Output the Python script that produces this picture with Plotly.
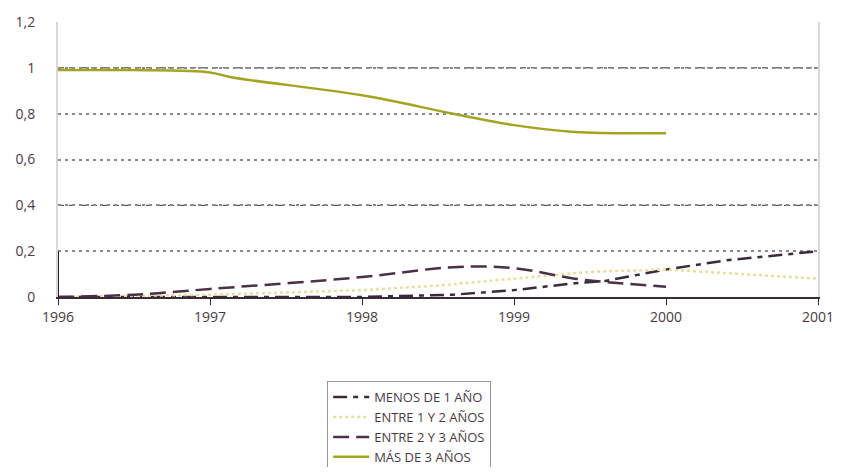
import plotly.graph_objects as go

# Años en el eje x y valores
x_menos = [1996, 1997, 1998, 1998.6, 1999, 1999.4, 1999.6, 2000, 2000.4, 2001]
menos = [0, 0, 0, 0.01, 0.03, 0.06, 0.07, 0.12, 0.16, 0.2]

x_entre12 = [1996, 1997, 1998, 1998.5, 1999, 1999.5, 2000, 2000.5, 2001]
entre12 = [0, 0.01, 0.03, 0.05, 0.08, 0.11, 0.12, 0.1, 0.08]

x_entre23 = [1996, 1996.5, 1997, 1998, 1998.6, 1999, 1999.4, 1999.7, 2000]
entre23 = [0, 0.01, 0.035, 0.087, 0.13, 0.126, 0.08, 0.06, 0.045]

x_mas = [1996, 1996.5, 1997, 1997.13, 1998, 1998.6, 1999, 1999.4, 2000]
mas = [0.99, 0.99, 0.98, 0.96, 0.88, 0.8, 0.75, 0.72, 0.715]

y_ticks = [0, 0.2, 0.4, 0.6, 0.8, 1, 1.2]
y_labels = ["0", "0,2", "0,4", "0,6", "0,8", "1", "1,2"]
x_ticks = [1996, 1997, 1998, 1999, 2000, 2001]
dark_grid = [0.4, 1]   # líneas de guía más oscuras

FONT = "Open Sans, Lato, sans-serif"
TXT = "#4a3a48"

fig = go.Figure()

fig.add_trace(go.Scatter(
    x=x_menos, y=menos, mode="lines", name="MENOS DE 1 AÑO",
    line=dict(color="#3a2a3a", width=2.5, dash="14px,6px,5px,6px"),
))
fig.add_trace(go.Scatter(
    x=x_entre12, y=entre12, mode="lines", name="ENTRE 1 Y 2 AÑOS",
    line=dict(color="#e6df9e", width=2.5, dash="dot"),
))
fig.add_trace(go.Scatter(
    x=x_entre23, y=entre23, mode="lines", name="ENTRE 2 Y 3 AÑOS",
    line=dict(color="#4a3048", width=2.5, dash="16px,7px", shape="spline"),
))
fig.add_trace(go.Scatter(
    x=x_mas, y=mas, mode="lines", name="MÁS DE 3 AÑOS",
    line=dict(color="#a4a422", width=2.5, shape="spline"),
))

for yv in dark_grid:
    fig.add_hline(y=yv, line_dash="6px,5px", line_color="#333333", line_width=1, layer="below")

# trazo vertical corto en el eje izquierdo (0 a 0,2)
fig.add_shape(type="line", xref="x", yref="y", x0=x_ticks[0], x1=x_ticks[0],
              y0=y_ticks[0], y1=y_ticks[1], line=dict(color="#222222", width=2))

fig.update_layout(
    width=829, height=459,
    plot_bgcolor="white", paper_bgcolor="white",
    font=dict(family=FONT, color=TXT, size=14),
    margin=dict(l=50, r=19, t=14, b=170, autoexpand=False),
    showlegend=True,
    legend=dict(
        xref="container", yref="container",
        x=0.385, y=0.187, xanchor="left", yanchor="top",
        bordercolor="#9a9a9a", borderwidth=1,
        font=dict(family=FONT, size=13, color=TXT),
        tracegroupgap=0, itemwidth=36, entrywidth=182,
    ),
)
fig.update_xaxes(
    range=[1996, 2001], tickvals=x_ticks, ticktext=[str(v) for v in x_ticks],
    showgrid=False, zeroline=False, automargin=False,
    showline=True, linecolor="#3a2a3a", linewidth=2, mirror=False,
    ticks="outside", ticklen=6, tickcolor="#3a2a3a",
    tickfont=dict(size=14, color=TXT),
)
fig.update_yaxes(
    range=[0, 1.2], tickvals=y_ticks, ticktext=y_labels,
    showgrid=True, gridcolor="#8a8a8a", griddash="3px,4px", gridwidth=1.5,
    zeroline=False, automargin=False,
    showline=True, linecolor="#d8d8d8", linewidth=2, mirror=True,
    ticks="", ticklabelstandoff=18,
    tickfont=dict(size=14, color=TXT),
)

fig.write_html("out.html")
